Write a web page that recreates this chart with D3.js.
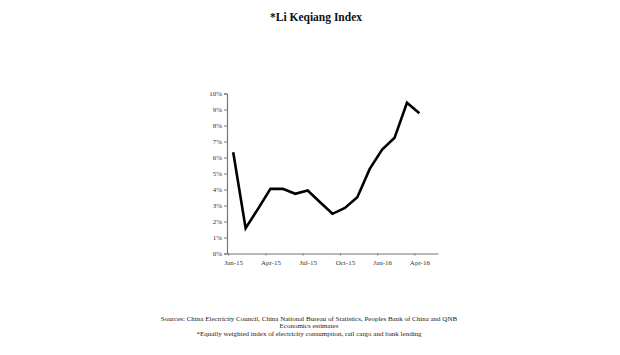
<!DOCTYPE html>
<html><head><meta charset="utf-8">
<script src="https://cdn.jsdelivr.net/npm/d3@7"></script>
<style>body{margin:0;background:#fff;} svg{display:block;}</style>
</head><body>
<script>
const months = ["Jan-15","Feb-15","Mar-15","Apr-15","May-15","Jun-15","Jul-15","Aug-15","Sep-15","Oct-15","Nov-15","Dec-15","Jan-16","Feb-16","Mar-16","Apr-16"];
const values = [6.33,1.58,2.79,4.04,4.04,3.73,3.94,3.2,2.48,2.85,3.52,5.29,6.5,7.23,9.42,8.77];
const tickLabels = ["Jan-15","Apr-15","Jul-15","Oct-15","Jan-16","Apr-16"];
const yTicks = [0,1,2,3,4,5,6,7,8,9,10];
const title = "*Li Keqiang Index";
const notes = ["Sources: China Electricity Council, China National Bureau of Statistics, Peoples Bank of China and QNB","Economics estimates","*Equally weighted index of electricity consumption, rail cargo and bank lending"];

const W = 620, H = 355;
const svg = d3.select("body").append("svg").attr("width", W).attr("height", H);
const font = "'Liberation Serif','Times New Roman',serif";

const x = d3.scaleLinear().domain([-0.5, 16.5]).range([227, 438]);
const y = d3.scaleLinear().domain([0, 10]).range([253.5, 93.5]);

svg.append("text").attr("x", 316).attr("y", 21).attr("text-anchor", "middle")
  .attr("font-family", font).attr("font-weight", "bold").attr("font-size", 11.5).attr("fill", "#111").text(title);

// y axis
const yAxis = d3.axisLeft(y).tickValues(yTicks).tickSize(3).tickPadding(2).tickFormat(d => d + "%");
const gy = svg.append("g").attr("transform", `translate(${x(-0.5)},0)`).call(yAxis);
gy.select(".domain").attr("stroke", "#777").attr("stroke-width", 1.2);
gy.selectAll(".tick line").attr("stroke", "#777");
gy.selectAll("text").attr("font-family", font).attr("font-size", 7).attr("fill", "#333");

// x axis
const xAxis = d3.axisBottom(x).tickValues(tickLabels.map(t => months.indexOf(t))).tickSize(0).tickPadding(7)
  .tickFormat(i => months[i]);
const gx = svg.append("g").attr("transform", `translate(0,${y(0)})`).call(xAxis);
gx.select(".domain").attr("stroke", "#777").attr("stroke-width", 1.2);
gx.selectAll("text").attr("font-family", font).attr("font-size", 7).attr("fill", "#333");
gx.selectAll(".tick").append("line").attr("x1", -5).attr("x2", -5).attr("y1", 0).attr("y2", 2).attr("stroke", "#777");

// line
const line = d3.line().x((d, i) => x(i)).y(d => y(d));
svg.append("path").datum(values).attr("d", line).attr("fill", "none")
  .attr("stroke", "#000").attr("stroke-width", 2.6).attr("stroke-linejoin", "miter");

// notes
const ny = [321, 328, 336];
notes.forEach((t, i) => {
  svg.append("text").attr("x", 309).attr("y", ny[i]).attr("text-anchor", "middle")
    .attr("font-family", font).attr("font-size", 7).attr("fill", "#222").text(t);
});
</script>
</body></html>
